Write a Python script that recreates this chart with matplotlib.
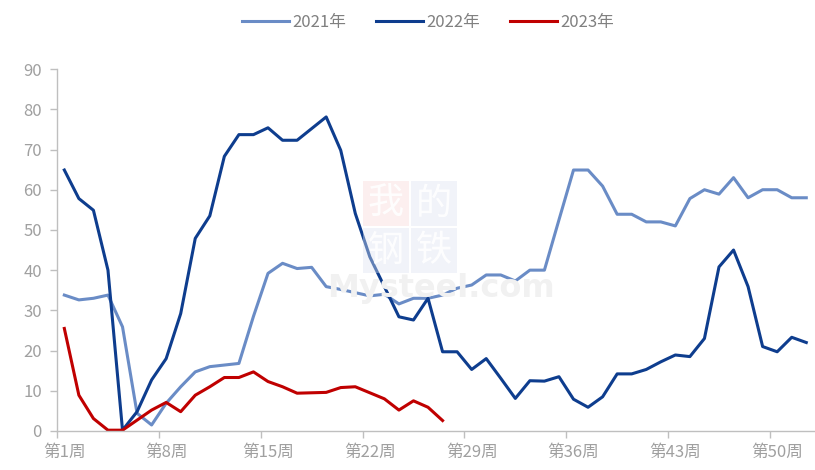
import numpy as np
import matplotlib
matplotlib.use("Agg")
import matplotlib.pyplot as plt
from matplotlib.patches import Rectangle

plt.rcParams['font.family'] = ['Noto Sans CJK SC', 'DejaVu Sans']

# weekly values
weeks = list(range(1, 53))
y2021 = [33.8, 32.6, 33.0, 33.8, 25.9, 4.4, 1.5, 6.9, 11.0, 14.7,
         16.0, 16.4, 16.8, 28.5, 39.2, 41.7, 40.4, 40.7, 35.9, 35.2,
         34.4, 33.6, 34.0, 31.6, 33.0, 33.0, 33.8, 35.5, 36.3, 38.8,
         38.8, 37.3, 40.0, 40.0, 52.5, 64.9, 64.9, 60.9, 53.9, 53.9,
         52.0, 52.0, 51.0, 57.8, 60.0, 58.9, 63.0, 58.0, 60.0, 60.0,
         58.0, 58.0]
y2022 = [64.9, 57.8, 54.9, 40.0, 0.2, 4.8, 12.7, 18.0, 29.2, 47.9,
         53.5, 68.3, 73.7, 73.7, 75.4, 72.3, 72.3, 75.2, 78.1, 69.8,
         54.1, 43.3, 35.9, 28.4, 27.6, 33.0, 19.7, 19.7, 15.3, 18.0,
         13.1, 8.1, 12.5, 12.4, 13.5, 7.9, 5.9, 8.5, 14.2, 14.2,
         15.3, 17.2, 18.9, 18.5, 23.0, 40.8, 45.0, 35.9, 21.0, 19.7,
         23.3, 22.0]
y2023 = [25.5, 8.9, 3.1, 0.2, 0.2, 2.7, 5.2, 7.1, 4.8, 8.9,
         11.0, 13.3, 13.3, 14.7, 12.3, 11.0, 9.4, 9.5, 9.6, 10.8,
         11.0, 9.5, 8.0, 5.2, 7.5, 5.9, 2.6]
label_weeks = [1, 8, 15, 22, 29, 36, 43, 50]

fig = plt.figure(figsize=(8.15, 4.7), dpi=100)
ax = fig.add_axes([0.07, 0.083, 0.93, 0.77])

# faint watermark
for (bx, by, ch, fc) in [(0, 1, '我', '#F8D8D8'), (1, 1, '的', '#DDE3F0'),
                          (0, 0, '钢', '#DDE3F0'), (1, 0, '铁', '#DDE3F0')]:
    x0 = 363 + bx * 48
    y0 = 470 - 273 + by * 47
    fig.patches.append(Rectangle((x0 / 815, y0 / 470), 46 / 815, 45 / 470,
                                 transform=fig.transFigure, facecolor=fc,
                                 alpha=0.4, edgecolor='none', zorder=0))
    fig.text((x0 + 23) / 815, (y0 + 22) / 470, ch, ha='center', va='center',
             fontsize=26, color='white', alpha=0.9, zorder=0.5)
fig.text(441 / 815, 182 / 470, 'Mysteel.com', ha='center', va='center',
         fontsize=23, fontweight='bold', color='#F1F1F1', zorder=0.5,
         family='DejaVu Sans')

ax.patch.set_alpha(0)
ax.plot(weeks, y2021, color='#6A8CC6', lw=2.2, label='2021年')
ax.plot(weeks, y2022, color='#0E3D8E', lw=2.2, label='2022年')
ax.plot(weeks[:len(y2023)], y2023, color='#C00000', lw=2.2, label='2023年')

ax.set_xlim(0.5, 52.6)
ax.set_ylim(0, 90)
ax.set_yticks(range(0, 91, 10))
ax.set_xticks(label_weeks)
ax.set_xticklabels(['第%d周' % w for w in label_weeks])
ax.set_xticks([w - 0.5 for w in label_weeks], minor=True)
ax.tick_params(axis='x', which='major', length=0, pad=9)
ax.tick_params(axis='x', which='minor', length=5, color='#BFBFBF', width=1)
ax.tick_params(axis='y', length=5, color='#BFBFBF', width=1, pad=6)
ax.tick_params(labelsize=12, labelcolor='#A0A0A0')
for s in ['top', 'right']:
    ax.spines[s].set_visible(False)
for s in ['left', 'bottom']:
    ax.spines[s].set_color('#BFBFBF')
    ax.spines[s].set_linewidth(1)

fig.legend(loc='center', bbox_to_anchor=(428 / 815, 1 - 22 / 470), ncol=3,
           frameon=False, fontsize=12, labelcolor='#808080',
           handlelength=2.8, handletextpad=0.2, columnspacing=1.8)

fig.savefig('out.png', dpi=100)
